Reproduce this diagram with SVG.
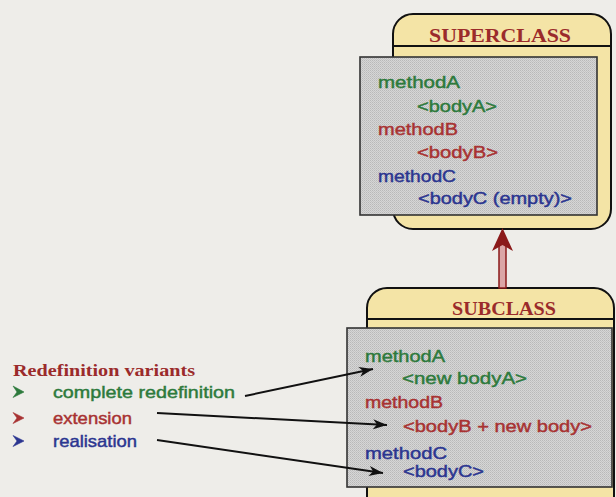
<svg xmlns="http://www.w3.org/2000/svg" width="616" height="497" viewBox="0 0 616 497">
  <style>
    .sans { font-family: "Liberation Sans", Arial, sans-serif; font-size: 17px; stroke-width: 0.45px; }
    .title { font-family: "Liberation Serif", "Times New Roman", serif; font-weight: bold; fill: #9b2b2b; }
    .green { fill: #2d7a3c; stroke: #2d7a3c; }
    .red { fill: #a83232; stroke: #a83232; }
    .blue { fill: #2b3590; stroke: #2b3590; }
    .frame { fill: #f4e4a6; stroke: #111; stroke-width: 2; }
    .sep { stroke: #111; stroke-width: 2; }
    .body { fill: url(#dither); stroke: #333; stroke-width: 1.6; }
    .link { stroke: #111; stroke-width: 2; fill: none; marker-end: url(#head); }
    .bullet { stroke-width: 0.6; stroke-linejoin: round; }
  </style>
  <defs>
    <!-- halftone grey used for the method panels -->
    <pattern id="dither" width="2" height="2" patternUnits="userSpaceOnUse">
      <rect width="2" height="2" fill="#d6d6d6"/>
      <rect width="1" height="1" fill="#b9b9b9"/>
      <rect x="1" y="1" width="1" height="1" fill="#c4c4c4"/>
    </pattern>
    <marker id="head" markerUnits="userSpaceOnUse" markerWidth="16" markerHeight="12" refX="14" refY="5" orient="auto">
      <path d="M0,0 L14,5 L0,10 L4,5 z" fill="#111"/>
    </marker>
  </defs>

  <rect width="616" height="497" fill="#eeede9"/>

  <!-- base class -->
  <g id="superclass">
    <rect class="frame" x="393" y="14" width="218" height="215" rx="20"/>
    <line class="sep" x1="393" y1="46" x2="611" y2="46"/>
    <text class="title" x="429" y="42" font-size="19" textLength="142" lengthAdjust="spacingAndGlyphs">SUPERCLASS</text>
    <rect class="body" x="360" y="57" width="237" height="158"/>
    <g class="sans">
      <text class="green" x="378" y="88" textLength="82" lengthAdjust="spacingAndGlyphs">methodA</text>
      <text class="green" x="417" y="111.5" textLength="80" lengthAdjust="spacingAndGlyphs">&lt;bodyA&gt;</text>
      <text class="red" x="378" y="135" textLength="80" lengthAdjust="spacingAndGlyphs">methodB</text>
      <text class="red" x="417" y="157.5" textLength="81" lengthAdjust="spacingAndGlyphs">&lt;bodyB&gt;</text>
      <text class="blue" x="378" y="181.5" textLength="78" lengthAdjust="spacingAndGlyphs">methodC</text>
      <text class="blue" x="418" y="203.5" textLength="154" lengthAdjust="spacingAndGlyphs">&lt;bodyC (empty)&gt;</text>
    </g>
  </g>

  <!-- derived class -->
  <g id="subclass">
    <rect class="frame" x="367" y="288" width="247" height="230" rx="20"/>
    <line class="sep" x1="367" y1="319" x2="614" y2="319"/>
    <text class="title" x="452" y="315" font-size="19" textLength="104" lengthAdjust="spacingAndGlyphs">SUBCLASS</text>
    <rect class="body" x="347" y="328" width="265" height="159"/>
    <g class="sans">
      <text class="green" x="365" y="362" textLength="80" lengthAdjust="spacingAndGlyphs">methodA</text>
      <text class="green" x="402" y="384" textLength="125" lengthAdjust="spacingAndGlyphs">&lt;new bodyA&gt;</text>
      <text class="red" x="365" y="408" textLength="78" lengthAdjust="spacingAndGlyphs">methodB</text>
      <text class="red" x="403" y="432" textLength="189" lengthAdjust="spacingAndGlyphs">&lt;bodyB + new body&gt;</text>
      <text class="blue" x="365" y="458.5" textLength="82" lengthAdjust="spacingAndGlyphs">methodC</text>
      <text class="blue" x="403" y="477" textLength="81" lengthAdjust="spacingAndGlyphs">&lt;bodyC&gt;</text>
    </g>
  </g>

  <!-- legend of redefinition kinds -->
  <g id="legend">
    <text class="title" x="13" y="376" font-size="17" textLength="182" lengthAdjust="spacingAndGlyphs">Redefinition variants</text>
    <polygon class="green bullet" points="13,386 24,392 13,397.5 17,392"/>
    <polygon class="red bullet" points="13,412.5 24,418 13,423.5 17,418"/>
    <polygon class="blue bullet" points="13,435.5 24,441 13,446.5 17,441"/>
    <g class="sans">
      <text class="green" x="53" y="398" textLength="182" lengthAdjust="spacingAndGlyphs">complete redefinition</text>
      <text class="red" x="53" y="423.5" textLength="79" lengthAdjust="spacingAndGlyphs">extension</text>
      <text class="blue" x="53" y="446.5" textLength="84" lengthAdjust="spacingAndGlyphs">realisation</text>
    </g>
  </g>

  <g id="connectors">
    <!-- inheritance: double-walled shaft with a notched head -->
    <rect x="499" y="244" width="7" height="44" fill="#dba6a6" stroke="#8b1a1a" stroke-width="1.5"/>
    <polygon points="502.5,228 513,251 502.5,245 492,251" fill="#8b1a1a"/>
    <line class="link" x1="245" y1="396" x2="373" y2="369"/>
    <line class="link" x1="157" y1="413" x2="387" y2="425"/>
    <line class="link" x1="157" y1="440" x2="383" y2="473"/>
  </g>
</svg>
